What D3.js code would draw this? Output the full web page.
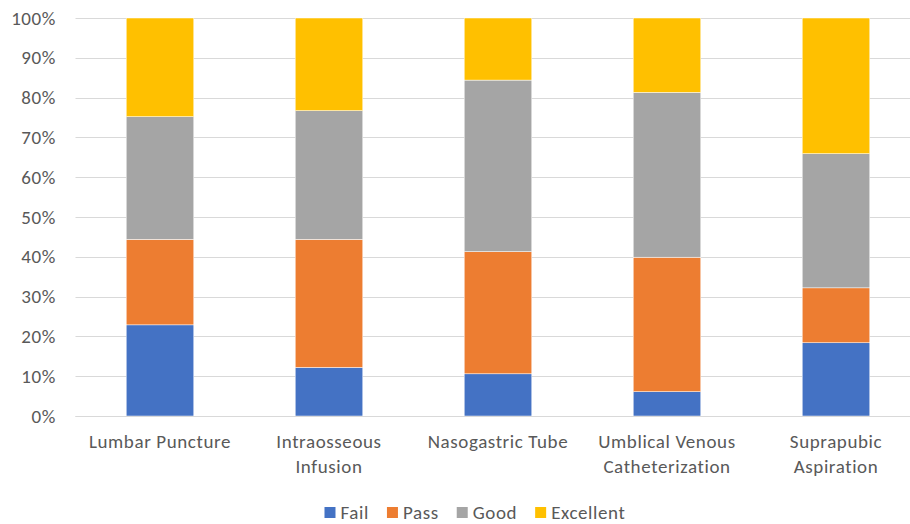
<!DOCTYPE html>
<html>
<head>
<meta charset="utf-8">
<script src="https://cdn.jsdelivr.net/npm/d3@7"></script>
<style>
  html, body { margin: 0; padding: 0; background: #fff; }
  svg { display: block; font-family: Carlito, Calibri, Lato, sans-serif; }
  text { letter-spacing: 0.6px; }
</style>
</head>
<body>
<svg id="chart" width="910" height="524"></svg>
<script>
const categories = [
  ["Lumbar Puncture"],
  ["Intraosseous", "Infusion"],
  ["Nasogastric Tube"],
  ["Umblical Venous", "Catheterization"],
  ["Suprapubic", "Aspiration"]
];
const seriesNames = ["Fail", "Pass", "Good", "Excellent"];
const fail      = [22.9, 12.2, 10.6,  6.1, 18.4];
const pass      = [21.5, 32.2, 30.7, 33.8, 13.8];
const good      = [30.8, 32.3, 43.1, 41.4, 33.7];
const excellent = [24.8, 23.3, 15.6, 18.7, 34.1];
const colors = ["#4472C4", "#ED7D31", "#A5A5A5", "#FFC000"];
const yTicks = [0, 10, 20, 30, 40, 50, 60, 70, 80, 90, 100];

const FS = 19;
const svg = d3.select("#chart");
const margin = { left: 75.5, right: 920.5, top: 18, bottom: 416 };

const rows = categories.map((c, i) => ({
  key: c.join(" "), lines: c,
  Fail: fail[i], Pass: pass[i], Good: good[i], Excellent: excellent[i]
}));

const x = d3.scaleBand().domain(rows.map(r => r.key))
  .range([margin.left, margin.right]).paddingInner(0.6).paddingOuter(0.3);
const y = d3.scaleLinear().domain([0, 100]).range([margin.bottom, margin.top]);

// gridlines
svg.append("g").selectAll("line").data(yTicks).join("line")
  .attr("x1", margin.left).attr("x2", margin.right)
  .attr("y1", d => Math.round(y(d)) + 0.5).attr("y2", d => Math.round(y(d)) + 0.5)
  .attr("stroke", "#D9D9D9").attr("stroke-width", 1);

// y labels
const yAxis = d3.axisLeft(y).tickValues(yTicks).tickFormat(d => d + "%").tickSize(0).tickPadding(0);
const ya = svg.append("g").attr("transform", `translate(56,0)`).call(yAxis);
ya.select(".domain").remove();
ya.selectAll("text").attr("font-size", FS).attr("fill", "#595959")
  .attr("font-family", "Carlito, Calibri, Lato, sans-serif");

// stacked bars
const stack = d3.stack().keys(seriesNames);
const stacked = stack(rows);
svg.append("g").selectAll("g").data(stacked).join("g")
  .attr("fill", (d, i) => colors[i])
  .selectAll("rect").data(d => d).join("rect")
  .attr("x", d => x(d.data.key))
  .attr("width", x.bandwidth())
  .attr("y", d => y(d[1]))
  .attr("height", d => y(d[0]) - y(d[1]))
  .attr("stroke", "#fff").attr("stroke-width", 0.5);

// baseline
svg.append("line").attr("x1", margin.left).attr("x2", margin.right)
  .attr("y1", Math.round(y(0)) + 0.5).attr("y2", Math.round(y(0)) + 0.5)
  .attr("stroke", "#D9D9D9").attr("stroke-width", 1);

// category labels
const xa = svg.append("g");
rows.forEach(r => {
  const t = xa.append("text")
    .attr("x", x(r.key) + x.bandwidth() / 2)
    .attr("text-anchor", "middle").attr("font-size", FS).attr("fill", "#595959");
  r.lines.forEach((ln, j) => {
    t.append("tspan").attr("x", x(r.key) + x.bandwidth() / 2)
      .attr("y", 448 + j * 25).text(ln);
  });
});

// legend
const legend = svg.append("g");
const items = legend.selectAll("g").data(seriesNames).join("g");
items.append("rect").attr("width", 11).attr("height", 11).attr("y", 507)
  .attr("fill", (d, i) => colors[i]);
items.append("text").attr("x", 16).attr("y", 519).attr("font-size", FS)
  .attr("fill", "#595959").text(d => d);
let cx = 0;
const widths = [];
items.each(function () { widths.push(this.getBBox().width); });
const gap = 18;
const total = d3.sum(widths) + gap * (widths.length - 1);
cx = 475 - total / 2;
items.attr("transform", (d, i) => {
  const tx = cx; cx += widths[i] + gap; return `translate(${tx},0)`;
});
</script>
</body>
</html>
